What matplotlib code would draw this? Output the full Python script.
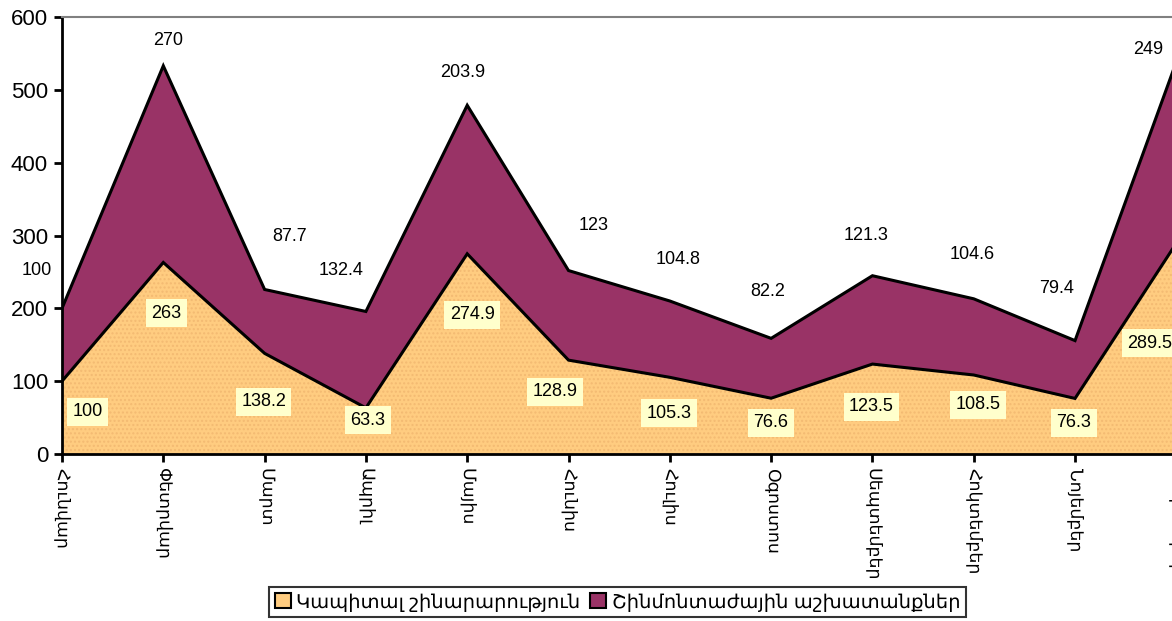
import numpy as np
import matplotlib
matplotlib.use("Agg")
import matplotlib.pyplot as plt
from matplotlib.patches import Patch

plt.rcParams['font.family'] = ['Liberation Sans', 'DejaVu Sans']

months = ["Հունվար", "Փետրվար", "Մարտ", "Ապրիլ", "Մայիս", "Հունիս",
          "Հուլիս", "Օգոստոս", "Սեպտեմբեր", "Հոկտեմբեր", "Նոյեմբեր", "Դեկտեմբեր"]
capital = [100, 263, 138.2, 63.3, 274.9, 128.9, 105.3, 76.6, 123.5, 108.5, 76.3, 289.5]
install = [100, 270, 87.7, 132.4, 203.9, 123, 104.8, 82.2, 121.3, 104.6, 79.4, 249]
series_names = ["Կապիտալ շինարարություն", "Շինմոնտաժային աշխատանքներ"]

# where the data labels sit (category units, value units)
cap_lab_x = [0.25, 1.03, 1.99, 3.02, 4.05, 4.87, 5.99, 7.0, 7.99, 9.04, 9.99, 10.74]
cap_lab_y = [58, 193.6, 71.8, 46.7, 190.9, 85.5, 56.3, 42.6, 65, 67.3, 42.6, 152.4]
ins_lab_x = [-0.25, 1.05, 2.25, 2.75, 3.96, 5.25, 6.08, 6.97, 7.94, 8.98, 9.82, 10.72]
ins_lab_y = [251.7, 567.5, 298.4, 252.6, 523.5, 313.5, 266.4, 222.9, 299.8, 274.2, 227.5, 555.7]

c_orange = "#FFCC80"
c_maroon = "#993366"

x = np.arange(len(months))
s1 = np.array(capital)
s2 = s1 + np.array(install)

fig = plt.figure(figsize=(11.72, 6.21), dpi=100)
ax = fig.add_axes([0.0529, 0.2689, 0.9508, 0.7037])

ax.fill_between(x, 0, s1, facecolor=c_orange, edgecolor="#F3BA72", hatch="....", linewidth=0)
ax.fill_between(x, s1, s2, facecolor=c_maroon, linewidth=0)
ax.plot(x, s1, color="black", lw=2.2, solid_joinstyle="miter")
ax.plot(x, s2, color="black", lw=2.2, solid_joinstyle="miter")

for i in range(len(months)):
    ax.text(cap_lab_x[i], cap_lab_y[i], f"{capital[i]:g}", ha="center", va="center",
            fontsize=13, bbox=dict(boxstyle="square,pad=0.3", fc="#FFFFCC", ec="none"),
            clip_on=False)
    ax.text(ins_lab_x[i], ins_lab_y[i], f"{install[i]:g}", ha="center", va="center",
            fontsize=13, clip_on=False)

ax.set_xlim(0, len(months) - 1)
ax.set_ylim(0, 600)
ax.set_yticks(range(0, 601, 100))
ax.set_xticks(x)
ax.set_xticklabels(months, rotation=-90, va="top", ha="center", fontsize=12.5)
ax.tick_params(axis="y", labelsize=16, length=6, width=2, pad=4)
ax.tick_params(axis="x", length=6, width=2, pad=4)

ax.spines["left"].set_linewidth(2)
ax.spines["bottom"].set_linewidth(2)
ax.spines["right"].set_visible(False)
ax.spines["top"].set_color("#808080")
ax.spines["top"].set_linewidth(1.5)

handles = [Patch(facecolor=c_orange, edgecolor="black", lw=1.5),
           Patch(facecolor=c_maroon, edgecolor="black", lw=1.5)]
leg = fig.legend(handles, series_names, loc="center", bbox_to_anchor=(0.527, 0.03),
                 ncol=2, fontsize=14, frameon=True, fancybox=False, edgecolor="black",
                 handlelength=0.8, handleheight=0.8, handletextpad=0.3, columnspacing=0.5,
                 borderpad=0.3, borderaxespad=0)
leg.get_frame().set_linewidth(1.5)

fig.savefig("out.png", dpi=100)
